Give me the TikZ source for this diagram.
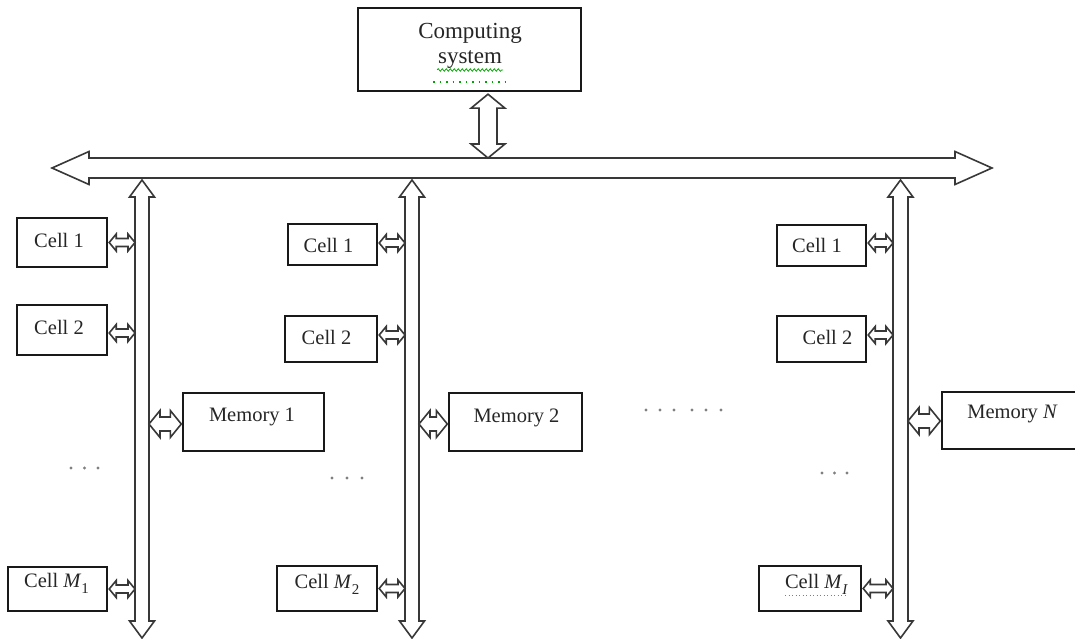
\documentclass[tikz,border=0pt]{standalone}
\usepackage{fontspec}
\setmainfont{Liberation Serif}
\usetikzlibrary{calc,decorations.pathmorphing}

\definecolor{spellmark}{RGB}{205,70,205}

% lowered index after an italic letter
\newcommand\lowidx[1]{\raisebox{-0.3em}{\fontsize{15}{15}\selectfont #1}}

% horizontal block double arrow between two points of equal height
% #1 left tip, #2 right tip, #3 shaft half width, #4 head half width, #5 head length
\newcommand\hblock[5]{%
  \draw[blockarrow] let \p1=#1, \p2=#2 in
    (\x1,\y1) -- (\x1+#5,\y1+#4) -- (\x1+#5,\y1+#3) -- (\x2-#5,\y1+#3)
    -- (\x2-#5,\y1+#4) -- (\x2,\y1) -- (\x2-#5,\y1-#4) -- (\x2-#5,\y1-#3)
    -- (\x1+#5,\y1-#3) -- (\x1+#5,\y1-#4) -- cycle;}

% vertical block double arrow, #1 upper tip, #2 lower tip
\newcommand\vblock[5]{%
  \draw[blockarrow] let \p1=#1, \p2=#2 in
    (\x1,\y1) -- (\x1+#4,\y1-#5) -- (\x1+#3,\y1-#5) -- (\x1+#3,\y2+#5)
    -- (\x1+#4,\y2+#5) -- (\x1,\y2) -- (\x1-#4,\y2+#5) -- (\x1-#3,\y2+#5)
    -- (\x1-#3,\y1-#5) -- (\x1-#4,\y1-#5) -- cycle;}

% box with its caption placed at an offset from the centre
% #1 name, #2 centre, #3 width, #4 height, #5 caption, #6 caption offset
\newcommand\capbox[6]{%
  \node[box, minimum width=#3, minimum height=#4] (#1) at #2 {};
  \node[lbl] (#1-t) at ($(#1.center)+#6$) {#5};}

\tikzset{
  box/.style={draw=black!90, line width=1.4pt, fill=white, inner sep=0pt},
  lbl/.style={inner sep=0pt, text=black!85, font=\fontsize{20.5}{24}\selectfont},
  biglbl/.style={inner sep=0pt, align=center, text=black!85, font=\fontsize{23}{25}\selectfont},
  blockarrow/.style={draw=black!78, line width=1.6pt, fill=white, line join=miter},
  dotmark/.style={fill=black!50},
}

\begin{document}
\begin{tikzpicture}[x=1pt,y=-1pt]
\path[use as bounding box, clip] (0,0) rectangle (1075,639);

% ---- system bus and the three vertical buses ----
\coordinate (busL) at (52,168);
\coordinate (busR) at (992,168);
\coordinate (bus1) at (142,180);   \coordinate (bus1end) at (142,638);
\coordinate (bus2) at (412,180);   \coordinate (bus2end) at (412,638);
\coordinate (bus3) at (900.5,180); \coordinate (bus3end) at (900.5,638);

\hblock{(busL)}{(busR)}{10pt}{16.5pt}{37pt}
\vblock{(bus1)}{(bus1end)}{7pt}{12.5pt}{17pt}
\vblock{(bus2)}{(bus2end)}{7pt}{12.5pt}{17pt}
\vblock{(bus3)}{(bus3end)}{7.5pt}{12.5pt}{17pt}

% ---- computing system ----
\node[box, minimum width=223, minimum height=83] (cs) at (469.5,49.5) {};
\node[biglbl] (cs-t) at ($(cs.center)+(0.5,-4)$) {Computing\\system};
\draw[green!65!black, line width=0.7pt,
      decorate, decoration={snake, segment length=4pt, amplitude=1.3pt}]
  (437,70) -- (503,70);
\draw[green!65!black, line width=1.6pt, dash pattern=on 1.6pt off 4.9pt] (433,82) -- (506,82);

\coordinate (csport) at ($(cs.south)+(18.5,2.5)$);
\coordinate (busport) at ($(csport |- busL)+(0,-10)$);
\vblock{(csport)}{(busport)}{9pt}{17pt}{14pt}

% ---- first group ----
\capbox{c11}{(62,242.5)}{90}{49}{Cell 1}{(-3,-2.5)}
\capbox{c12}{(62,330)}{90}{50}{Cell 2}{(-3,-3)}
\capbox{c1m}{(57.5,589)}{99}{44}{Cell \textit{M}\lowidx{1}}{(-1,-6)}
\capbox{mem1}{(253.5,422)}{141}{58}{Memory 1}{(-1.5,-5)}

\hblock{($(c11.east)+(1.5,0)$)}{($(c11.east -| bus1)+(-7,0)$)}{4pt}{8.5pt}{7pt}
\hblock{($(c12.east)+(1.5,3)$)}{($(c12.east -| bus1)+(-7,3)$)}{4pt}{8.5pt}{7pt}
\hblock{($(c1m.east)+(1.5,0)$)}{($(c1m.east -| bus1)+(-7,0)$)}{4pt}{8.5pt}{7pt}
\hblock{($(mem1.west -| bus1)+(7,2)$)}{($(mem1.west)+(-1,2)$)}{7pt}{13.5pt}{11pt}

% ---- second group ----
\capbox{c21}{(332.5,244.5)}{89}{41}{Cell 1}{(-4,1)}
\capbox{c22}{(331,339)}{92}{46}{Cell 2}{(-4.5,-2)}
\capbox{c2m}{(327,588.5)}{100}{45}{Cell \textit{M}\lowidx{2}}{(0,-4)}
\capbox{mem2}{(515.5,422)}{133}{58}{Memory 2}{(1,-4.5)}

\hblock{($(c21.east)+(1.5,-1.5)$)}{($(c21.east -| bus2)+(-7,-1.5)$)}{4pt}{8.5pt}{7pt}
\hblock{($(c22.east)+(1.5,-4)$)}{($(c22.east -| bus2)+(-7,-4)$)}{4pt}{8.5pt}{7pt}
\hblock{($(c2m.east)+(1.5,0)$)}{($(c2m.east -| bus2)+(-7,0)$)}{4pt}{8.5pt}{7pt}
\hblock{($(mem2.west -| bus2)+(7,2)$)}{($(mem2.west)+(-1,2)$)}{7pt}{13.5pt}{11pt}

% ---- last group ----
\capbox{c31}{(821.5,245.5)}{89}{41}{Cell 1}{(-4.5,0)}
\capbox{c32}{(821.5,339)}{89}{46}{Cell 2}{(6,-1.5)}
\capbox{c3m}{(810,588.5)}{102}{45}{Cell \textit{M}\lowidx{\textit{I}}}{(6.5,-4)}
\capbox{memn}{(1013.5,420.5)}{143}{57}{Memory \textit{N}}{(-1,-7)}
\draw[spellmark, line width=1pt, dash pattern=on 1pt off 2.5pt] (785,595) -- (846,595);

\hblock{($(c31.east)+(1.5,-2.5)$)}{($(c31.east -| bus3)+(-7.5,-2.5)$)}{4pt}{8.5pt}{7pt}
\hblock{($(c32.east)+(1.5,-4)$)}{($(c32.east -| bus3)+(-7.5,-4)$)}{4pt}{8.5pt}{7pt}
\hblock{($(c3m.east)+(1.5,0)$)}{($(c3m.east -| bus3)+(-7.5,0)$)}{4pt}{8.5pt}{7pt}
\hblock{($(memn.west -| bus3)+(7.5,0.5)$)}{($(memn.west)+(-1,0.5)$)}{7pt}{13.5pt}{11pt}

% ---- ellipses ----
\foreach \x in {71,84.5,98} \fill[dotmark] (\x,468) circle (1.6);
\foreach \x in {332,347,362} \fill[dotmark] (\x,478) circle (1.6);
\foreach \x in {822,834.5,847} \fill[dotmark] (\x,473) circle (1.6);
\foreach \x in {646,660,674,692,706,721} \fill[dotmark] (\x,410) circle (1.6);
\end{tikzpicture}
\end{document}
